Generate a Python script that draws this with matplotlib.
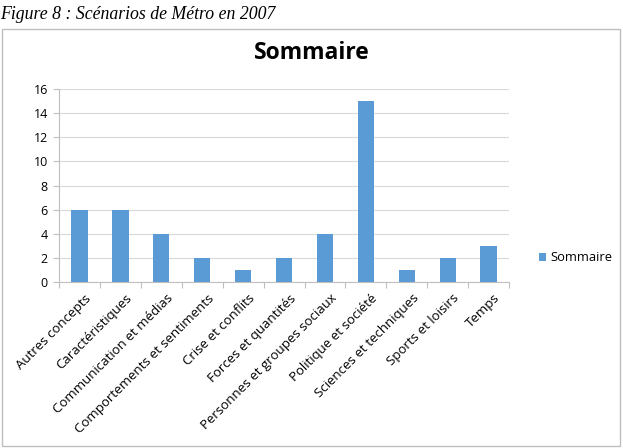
import matplotlib.pyplot as plt
import numpy as np
from matplotlib.patches import Rectangle
from matplotlib.transforms import ScaledTranslation

categories = ['Autres concepts', 'Caractéristiques', 'Communication et médias',
              'Comportements et sentiments', 'Crise et conflits', 'Forces et quantités',
              'Personnes et groupes sociaux', 'Politique et société',
              'Sciences et techniques', 'Sports et loisirs', 'Temps']
values = [6, 6, 4, 2, 1, 2, 4, 15, 1, 2, 3]
yticks = [0, 2, 4, 6, 8, 10, 12, 14, 16]

plt.rcParams['font.family'] = ['Open Sans', 'DejaVu Sans']

fig = plt.figure(figsize=(6.23, 4.48), dpi=100)
ax = fig.add_axes([0.0947, 0.3705, 0.7225, 0.4308])

x = np.arange(len(categories))
ax.bar(x, values, width=0.4, color='#5B9BD5', label='Sommaire', zorder=3)

ax.set_xlim(-0.5, len(categories) - 0.5)
ax.set_ylim(0, 16)
ax.set_yticks(yticks)
ax.tick_params(axis='y', length=4, color='#bfbfbf', labelsize=9, pad=4)
ax.yaxis.grid(True, color='#d9d9d9', linewidth=0.8, zorder=0)

# category ticks between bars, labels at bar centers
ax.set_xticks(np.arange(-0.5, len(categories), 1.0))
ax.set_xticklabels([])
ax.tick_params(axis='x', length=4, color='#bfbfbf')
ax.set_xticks(x, minor=True)
ax.set_xticklabels(categories, minor=True, rotation=45, ha='right',
                   rotation_mode='anchor', fontsize=9.5)
ax.tick_params(axis='x', which='minor', length=0, pad=7)
shift = ScaledTranslation(0.05, 0, fig.dpi_scale_trans)
for lab in ax.get_xticklabels(minor=True):
    lab.set_transform(lab.get_transform() + shift)

for s in ['top', 'right']:
    ax.spines[s].set_visible(False)
for s in ['left', 'bottom']:
    ax.spines[s].set_color('#bfbfbf')

ax.legend(loc='center left', bbox_to_anchor=(1.04, 0.125), frameon=False,
          fontsize=9.3, handlelength=0.6, handleheight=0.6, handletextpad=0.3)

fig.text(0.5, 0.882, 'Sommaire', ha='center', va='center',
         fontsize=16.5, fontweight='bold')
fig.text(0.0, 0.967, 'Figure 8 : Scénarios de Métro en 2007', ha='left', va='center',
         fontsize=12.8, style='italic', family=['Liberation Serif', 'DejaVu Serif'])

fig.add_artist(Rectangle((0.004, 0.004), 0.991, 0.932, transform=fig.transFigure,
                         fill=False, edgecolor='#bfbfbf', linewidth=1))

fig.savefig('out.png', dpi=100)
